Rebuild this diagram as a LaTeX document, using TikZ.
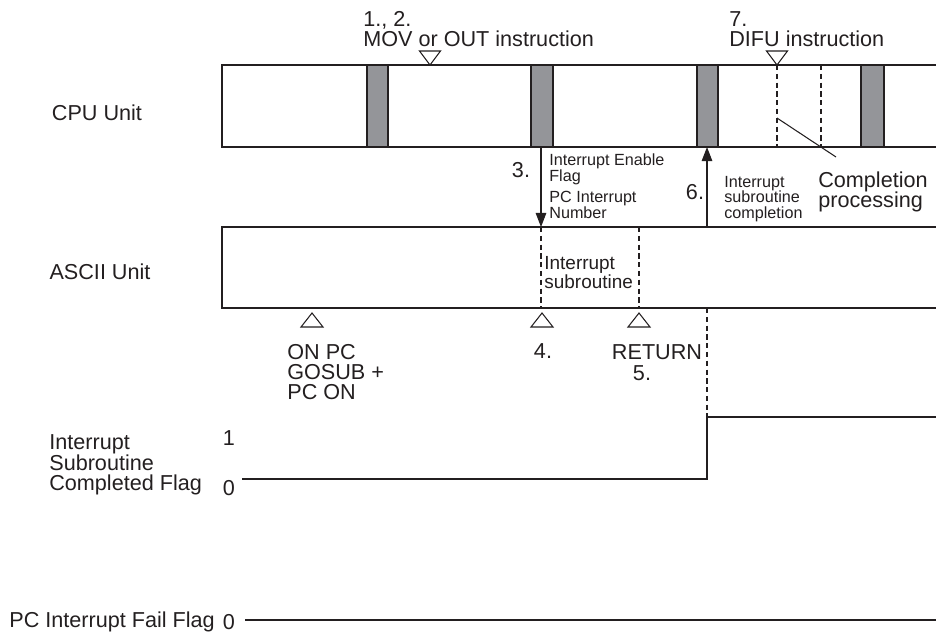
\documentclass[tikz,border=0pt]{standalone}
\usepackage{fontspec}
\setmainfont{Liberation Sans}
\usepackage{tikz}
\usetikzlibrary{arrows.meta,positioning,calc}
\definecolor{inkgray}{RGB}{35,31,32}
\definecolor{bargray}{RGB}{148,149,153}

\begin{document}
\begin{tikzpicture}[
  x=0.02cm, y=-0.02cm,
  lbl/.style  = {inner sep=0pt, align=left, text=inkgray,
    font=\fontsize{12.3}{11.6}\selectfont},
  slbl/.style = {inner sep=0pt, align=left, text=inkgray,
    font=\fontsize{9.2}{9}\selectfont},
  mlbl/.style = {inner sep=0pt, align=left, text=inkgray,
    font=\fontsize{10.8}{10.8}\selectfont},
  unit/.style = {line width=1.2pt, draw=inkgray},
  bar/.style  = {fill=bargray, draw=inkgray, line width=0.6pt},
  tri/.style  = {draw=inkgray, line width=0.6pt, fill=white},
  dsh/.style  = {draw=inkgray, line width=0.6pt, dash pattern=on 3pt off 2pt},
  sig/.style  = {draw=inkgray, line width=1.6pt},
  arr/.style  = {-{Triangle[length=8pt,width=6pt]}, line width=0.6pt, inkgray}
]
  \useasboundingbox (0,0) rectangle (936,633);

  % unit boxes (open on the right)
  \draw[unit] (936,65) -- (222,65) -- (222,147) -- (936,147);
  \draw[unit] (936,227) -- (222,227) -- (222,308) -- (936,308);

  % scan cycle bars
  \foreach \xa/\xb in {367/388, 531/553, 697/718, 861/884}
    \draw[bar] (\xa,65) rectangle (\xb,147);

  % instruction markers
  \foreach \xm in {430, 777}
    \draw[tri] (\xm-10.5,51) -- (\xm+10.5,51) -- (\xm,65) -- cycle;
  \foreach \xm in {312, 542, 639}
    \draw[tri] (\xm-11,327) -- (\xm+11,327) -- (\xm,313) -- cycle;

  % dashed timing lines
  \draw[dsh] (777,65) -- (777,147);
  \draw[dsh] (821,65) -- (821,147);
  \draw[dsh] (541,227) -- (541,308);
  \draw[dsh] (639,227) -- (639,308);
  \draw[dsh] (707,308) -- (707,417);
  \draw[inkgray, line width=0.6pt] (777,118) -- (836,157);

  % labels
  \node[lbl] (cpu)   at (97,113)  {CPU Unit};
  \node[lbl] (ascii) at (100,272) {ASCII Unit};
  \node[lbl, anchor=west] (mov)  at (363,29) {1., 2.\\MOV or OUT instruction};
  \node[lbl, anchor=west] (difu) at (729,29) {7.\\DIFU instruction};
  \node[lbl, anchor=west] (comp) at (818,192) {Completion\\processing};
  \node[lbl] (three) at (521,170) {3.};
  \node[lbl] (six)   at (695,192) {6.};
  \node[slbl, anchor=west] (enable) at (549,169) {Interrupt Enable\\Flag};
  \node[slbl, anchor=west] (number) at (549,205) {PC Interrupt\\Number};
  \node[slbl, anchor=west] (done)   at (724,199) {Interrupt\\subroutine\\completion};
  \node[mlbl, anchor=west] (isub)   at (544,273) {Interrupt\\subroutine};
  \node[lbl, anchor=west] (gosub) at (287,372) {ON PC\\GOSUB +\\PC ON};
  \node[lbl] (four)   at (543,351) {4.};
  \node[lbl] (ret)    at (657,352) {RETURN};
  \node[lbl] (five)   at (642,373) {5.};
  \node[lbl, anchor=west] (flaga) at (49,465) {Interrupt\\Subroutine\\Completed Flag};
  \node[lbl, anchor=west] (flagb) at (9,622)  {PC Interrupt Fail Flag};
  \node[lbl] (one)   at (229,438) {1};
  \node[lbl] (zeroa) at (229,488) {0};
  \node[lbl] (zerob) at (229,622) {0};

  % handshake arrows
  \coordinate (cpulow3)   at (541,147);
  \coordinate (asciitop3) at (541,227);
  \coordinate (asciitop6) at (707,227);
  \coordinate (cpulow6)   at (707,147);
  \draw[arr] (cpulow3) -- (asciitop3);
  \draw[arr] (asciitop6) -- (cpulow6);

  % flag signals
  \draw[sig] (242,479) -- (707,479) -- (707,417) -- (936,417);
  \draw[sig] (245,620) -- (936,620);
\end{tikzpicture}
\end{document}
